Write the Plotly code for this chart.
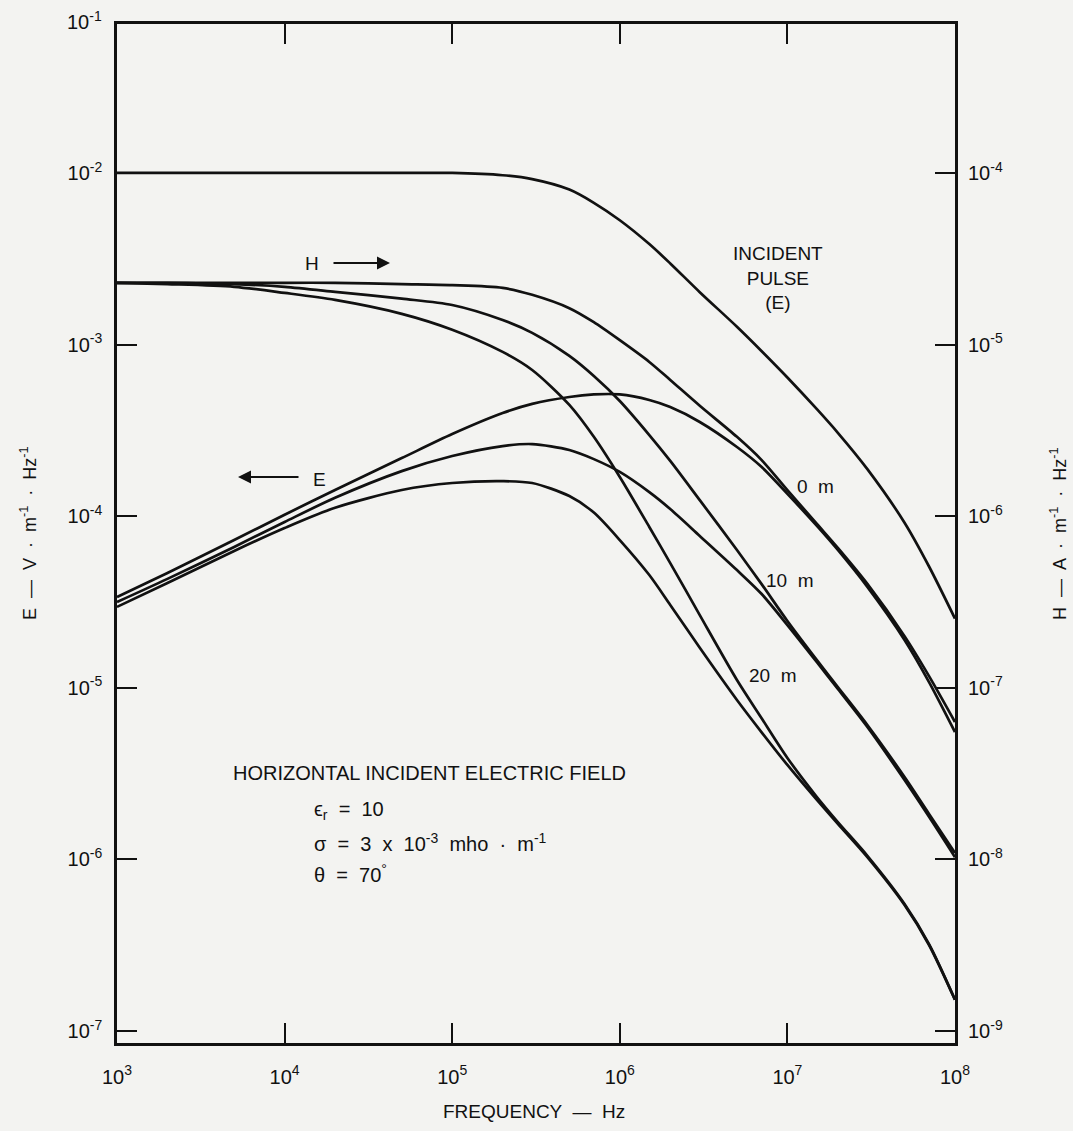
import plotly.graph_objects as go

# ---------------- data ----------------
freq_hz = [1e3, 2e3, 5e3, 1e4, 2e4, 5e4, 1e5, 2e5, 3e5, 5e5, 7e5, 1e6, 1.5e6, 2e6,
           3e6, 5e6, 7e6, 1e7, 1.5e7, 2e7, 3e7, 5e7, 7e7, 1e8]

# Incident pulse E  (V/m/Hz, left axis)
e_incident = [1.0e-2, 1.0e-2, 1.0e-2, 1.0e-2, 1.0e-2, 1.0e-2, 1.0e-2, 9.7e-3, 9.2e-3, 8.0e-3,
              6.7e-3, 5.3e-3, 3.85e-3, 2.97e-3, 2.02e-3, 1.27e-3, 9.18e-4, 6.43e-4, 4.20e-4,
              3.06e-4, 1.88e-4, 9.16e-5, 5.09e-5, 2.53e-5]

# Horizontal E field at depths (V/m/Hz, left axis)
e_0m = [3.38e-5, 4.67e-5, 7.26e-5, 1.02e-4, 1.42e-4, 2.18e-4, 3.01e-4, 3.99e-4, 4.51e-4, 4.95e-4,
        5.12e-4, 5.12e-4, 4.75e-4, 4.32e-4, 3.54e-4, 2.53e-4, 1.94e-4, 1.35e-4, 8.77e-5,
        6.35e-5, 3.87e-5, 1.90e-5, 1.08e-5, 5.52e-6]
e_10m = [3.16e-5, 4.31e-5, 6.62e-5, 9.25e-5, 1.28e-4, 1.83e-4, 2.24e-4, 2.56e-4, 2.63e-4, 2.43e-4,
         2.15e-4, 1.81e-4, 1.38e-4, 1.10e-4, 7.67e-5, 4.85e-5, 3.53e-5, 2.32e-5, 1.41e-5,
         9.84e-6, 5.91e-6, 2.90e-6, 1.77e-6, 1.03e-6]
e_20m = [2.96e-5, 4.08e-5, 6.27e-5, 8.53e-5, 1.12e-4, 1.42e-4, 1.56e-4, 1.60e-4, 1.56e-4, 1.31e-4,
         1.05e-4, 7.26e-5, 4.54e-5, 3.04e-5, 1.71e-5, 8.49e-6, 5.52e-6, 3.55e-6, 2.22e-6,
         1.61e-6, 1.03e-6, 5.42e-7, 3.17e-7, 1.52e-7]

# Magnetic field H at depths (A/m/Hz, right axis)
h_0m = [2.29e-5, 2.29e-5, 2.29e-5, 2.29e-5, 2.29e-5, 2.25e-5, 2.22e-5, 2.14e-5, 1.95e-5, 1.63e-5,
        1.35e-5, 1.06e-5, 7.92e-6, 6.22e-6, 4.40e-6, 2.90e-6, 2.13e-6, 1.42e-6, 9.01e-7,
        6.53e-7, 4.03e-7, 2.00e-7, 1.17e-7, 6.32e-8]
h_10m = [2.29e-5, 2.29e-5, 2.25e-5, 2.17e-5, 2.03e-5, 1.85e-5, 1.70e-5, 1.39e-5, 1.17e-5, 8.59e-6,
         6.56e-6, 4.69e-6, 2.97e-6, 2.10e-6, 1.24e-6, 6.35e-7, 4.03e-7, 2.45e-7, 1.45e-7,
         1.01e-7, 6.07e-8, 3.02e-8, 1.84e-8, 1.09e-8]
h_20m = [2.29e-5, 2.25e-5, 2.17e-5, 2.00e-5, 1.82e-5, 1.51e-5, 1.22e-5, 9.06e-6, 7.11e-6, 4.45e-6,
         2.90e-6, 1.69e-6, 8.65e-7, 5.33e-7, 2.65e-7, 1.11e-7, 6.67e-8, 3.90e-8, 2.31e-8,
         1.65e-8, 1.05e-8, 5.50e-9, 3.21e-9, 1.52e-9]

x_ticks = [1e3, 1e4, 1e5, 1e6, 1e7, 1e8]
x_ticktext = ["10<sup>3</sup>", "10<sup>4</sup>", "10<sup>5</sup>", "10<sup>6</sup>",
              "10<sup>7</sup>", "10<sup>8</sup>"]
yl_ticks = [1e-2, 1e-3, 1e-4, 1e-5, 1e-6, 1e-7]
yl_ticktext = ["10<sup>-2</sup>", "10<sup>-3</sup>", "10<sup>-4</sup>", "10<sup>-5</sup>",
               "10<sup>-6</sup>", "10<sup>-7</sup>"]
yr_ticks = [1e-4, 1e-5, 1e-6, 1e-7, 1e-8, 1e-9]
yr_ticktext = ["10<sup>-4</sup>", "10<sup>-5</sup>", "10<sup>-6</sup>", "10<sup>-7</sup>",
               "10<sup>-8</sup>", "10<sup>-9</sup>"]

# ---------------- figure ----------------
W, H = 1073, 1131
L, R, T, B = 117, 955, 24, 1043
BG = "#f3f3f1"
INK = "#111111"
FONT = "Liberation Sans, Arial, sans-serif"

def px(x):
    return (x - L) / (R - L)

def py(y):
    return (B - y) / (B - T)

fig = go.Figure()
line = dict(color=INK, width=2.7, shape="spline", smoothing=0.8)

for ys in [e_incident, e_0m, e_10m, e_20m]:
    fig.add_trace(go.Scatter(x=freq_hz, y=ys, mode="lines", line=line,
                             showlegend=False, hoverinfo="skip"))
for ys in [h_0m, h_10m, h_20m]:
    fig.add_trace(go.Scatter(x=freq_hz, y=ys, mode="lines", line=line, yaxis="y2",
                             showlegend=False, hoverinfo="skip"))

axis_common = dict(showgrid=False, zeroline=False, ticks="inside", ticklen=20, tickwidth=2,
                   tickcolor=INK, linecolor=INK, linewidth=2.5,
                   tickfont=dict(family=FONT, size=20, color=INK))

fig.update_layout(
    width=W, height=H,
    margin=dict(l=L, r=W - R, t=T, b=H - B, pad=0),
    paper_bgcolor=BG, plot_bgcolor=BG,
    showlegend=False,
    xaxis=dict(type="log", range=[3, 8], tickvals=x_ticks, ticktext=x_ticktext,
               showline=True, mirror="ticks", ticklabelstandoff=14, **axis_common),
    yaxis=dict(type="log", range=[-7.070, -1.132], tickvals=yl_ticks, ticktext=yl_ticktext,
               showline=True, mirror="ticks", ticklabelstandoff=8, **axis_common),
    yaxis2=dict(type="log", range=[-9.070, -3.132], tickvals=yr_ticks, ticktext=yr_ticktext,
                overlaying="y", side="right", showline=False, ticklabelstandoff=12,
                **axis_common),
)

ann_font = dict(family=FONT, size=19, color=INK)
par_font = dict(family=FONT, size=20, color=INK)
anns = [
    dict(x=px(104), y=py(20), text="10<sup>-1</sup>", xanchor="right", yanchor="middle",
         font=dict(family=FONT, size=20, color=INK)),
    dict(x=px(534), y=py(1111), text="FREQUENCY  —  Hz", xanchor="center", yanchor="middle",
         font=dict(family=FONT, size=19, color=INK)),
    dict(x=px(28), y=py(534), text="E  —  V  ·  m<sup>-1</sup>  ·  Hz<sup>-1</sup>", textangle=-90,
         xanchor="center", yanchor="middle", font=dict(family=FONT, size=18, color=INK)),
    dict(x=px(1058), y=py(534), text="H  —  A  ·  m<sup>-1</sup>  ·  Hz<sup>-1</sup>", textangle=-90,
         xanchor="center", yanchor="middle", font=dict(family=FONT, size=18, color=INK)),
    dict(x=px(778), y=py(278), text="INCIDENT<br>PULSE<br>(E)", xanchor="center",
         yanchor="middle", align="center", font=ann_font),
    dict(x=px(815), y=py(486), text="0  m", xanchor="center", yanchor="middle", font=ann_font),
    dict(x=px(790), y=py(580), text="10  m", xanchor="center", yanchor="middle", font=ann_font),
    dict(x=px(773), y=py(675), text="20  m", xanchor="center", yanchor="middle", font=ann_font),
    dict(x=px(312), y=py(263), text="H", xanchor="center", yanchor="middle", font=ann_font),
    dict(x=px(319), y=py(479), text="E", xanchor="center", yanchor="middle", font=ann_font),
    dict(x=px(231), y=py(773), text="HORIZONTAL INCIDENT ELECTRIC FIELD", xanchor="left",
         yanchor="middle", font=dict(family=FONT, size=20, color=INK)),
    dict(x=px(312), y=py(810), text="ϵ<sub>r</sub>  =  10", xanchor="left", yanchor="middle",
         font=par_font),
    dict(x=px(312), y=py(842), text="σ  =  3  x  10<sup>-3</sup>  mho  ·  m<sup>-1</sup>",
         xanchor="left", yanchor="middle", font=par_font),
    dict(x=px(312), y=py(873), text="θ  =  70<sup>°</sup>", xanchor="left", yanchor="middle",
         font=par_font),
]
for a in anns:
    a.setdefault("showarrow", False)
    a.update(xref="paper", yref="paper")
    fig.add_annotation(**a)

# arrows next to H and E labels
fig.add_annotation(x=px(390), y=py(263), xref="paper", yref="paper", ax=-58, ay=0,
                   showarrow=True, arrowhead=2, arrowsize=1.3, arrowwidth=2, arrowcolor=INK,
                   text="")
fig.add_annotation(x=px(238), y=py(477), xref="paper", yref="paper", ax=62, ay=0,
                   showarrow=True, arrowhead=2, arrowsize=1.3, arrowwidth=2, arrowcolor=INK,
                   text="")

fig.write_html("out.html", config={"displayModeBar": False},
               post_script="document.body.style.margin='0';"
                           "document.body.style.background='#f3f3f1';")
